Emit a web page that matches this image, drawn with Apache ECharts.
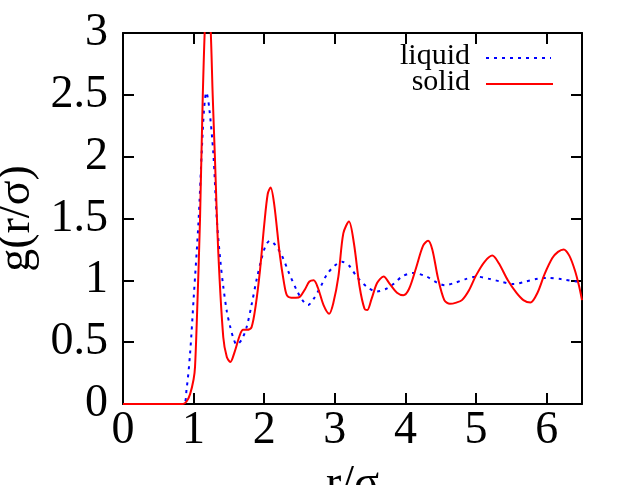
<!DOCTYPE html>
<html>
<head>
<meta charset="utf-8">
<script src="https://cdn.jsdelivr.net/npm/echarts@6/dist/echarts.min.js"></script>
<style>
html,body{margin:0;padding:0;background:#fff;}
#chart{width:623px;height:485px;}
</style>
</head>
<body>
<div id="chart"></div>
<script>
// ---- data ----
var rLiquid = [0, 0.85, 0.9, 0.95, 1.0, 1.07, 1.12, 1.15, 1.18, 1.22, 1.28, 1.33, 1.38, 1.42, 1.47, 1.52, 1.57, 1.61, 1.68, 1.75, 1.82, 1.89, 1.96, 2.02, 2.08, 2.15, 2.25, 2.35, 2.46, 2.54, 2.62, 2.70, 2.80, 2.89, 3.0, 3.10, 3.20, 3.31, 3.45, 3.59, 3.72, 3.83, 3.95, 4.11, 4.30, 4.45, 4.56, 4.70, 4.85, 5.01, 5.2, 5.35, 5.53, 5.7, 5.85, 6.0, 6.2, 6.47, 6.5];
var gLiquid = [0, 0, 0.12, 0.41, 0.85, 1.48, 2.1, 2.4, 2.52, 2.4, 2.02, 1.48, 1.15, 0.95, 0.75, 0.62, 0.52, 0.48, 0.52, 0.62, 0.8, 1.0, 1.17, 1.28, 1.32, 1.29, 1.2, 1.06, 0.92, 0.84, 0.80, 0.85, 0.95, 1.05, 1.12, 1.15, 1.12, 1.03, 0.95, 0.91, 0.93, 0.97, 1.03, 1.06, 1.03, 0.98, 0.96, 0.98, 1.01, 1.03, 1.01, 0.99, 0.97, 0.99, 1.01, 1.02, 1.01, 0.99, 0.99];
var rSolid = [0, 0.85, 0.9, 0.95, 1.0, 1.02, 1.05, 1.09, 1.13, 1.17, 1.20, 1.24, 1.27, 1.30, 1.35, 1.42, 1.47, 1.52, 1.58, 1.65, 1.70, 1.76, 1.82, 1.88, 1.94, 2.0, 2.05, 2.09, 2.14, 2.22, 2.28, 2.32, 2.38, 2.45, 2.51, 2.58, 2.64, 2.70, 2.76, 2.84, 2.92, 2.98, 3.05, 3.12, 3.20, 3.27, 3.35, 3.42, 3.46, 3.52, 3.60, 3.69, 3.78, 3.88, 3.97, 4.05, 4.15, 4.25, 4.32, 4.38, 4.46, 4.55, 4.63, 4.72, 4.80, 4.90, 5.0, 5.12, 5.23, 5.32, 5.45, 5.57, 5.67, 5.77, 5.87, 5.97, 6.08, 6.16, 6.24, 6.32, 6.40, 6.46, 6.5];
var gSolid = [0, 0, 0.02, 0.08, 0.2, 0.3, 0.75, 1.48, 2.5, 3.2, 3.4, 3.05, 2.5, 2.02, 1.22, 0.54, 0.38, 0.34, 0.42, 0.55, 0.60, 0.60, 0.62, 0.8, 1.08, 1.45, 1.7, 1.75, 1.62, 1.21, 0.98, 0.88, 0.86, 0.86, 0.87, 0.93, 0.99, 1.0, 0.94, 0.8, 0.73, 0.82, 1.03, 1.38, 1.476, 1.3, 0.95, 0.77, 0.76, 0.85, 0.98, 1.03, 0.97, 0.9, 0.88, 0.93, 1.1, 1.28, 1.32, 1.25, 1.02, 0.84, 0.81, 0.82, 0.84, 0.92, 1.04, 1.15, 1.20, 1.14, 1.0, 0.9, 0.84, 0.82, 0.9, 1.05, 1.18, 1.23, 1.25, 1.2, 1.08, 0.95, 0.84];
var seriesNames = ['liquid', 'solid'];
var xTitle = 'r/σ';
var yTitle = 'g(r/σ)';

var FONT = '"Liberation Serif", "DejaVu Serif", serif';
var chart = echarts.init(document.getElementById('chart'));

function pairs(xs, ys) { return xs.map(function (x, i) { return [x, ys[i]]; }); }

var axisCommon = {
  axisLine: { show: true, onZero: false, lineStyle: { color: '#000', width: 2 } },
  axisTick: { show: true, inside: true, length: 11, lineStyle: { color: '#000', width: 2 } },
  splitLine: { show: false }
};

chart.setOption({
  animation: false,
  backgroundColor: '#fff',
  grid: { left: 123, right: 41, top: 33, bottom: 81, containLabel: false, outerBoundsMode: 'none' },
  xAxis: [
    Object.assign({
      type: 'value', min: 0, max: 6.5, interval: 1, position: 'bottom',
      name: xTitle, nameLocation: 'middle', nameGap: 58,
      nameTextStyle: { fontFamily: FONT, fontSize: 46, color: '#000' },
      axisLabel: { show: true, fontFamily: FONT, fontSize: 46, color: '#000', margin: 4, showMaxLabel: false }
    }, axisCommon),
    Object.assign({
      type: 'value', min: 0, max: 6.5, interval: 1, position: 'top',
      axisLabel: { show: false }
    }, axisCommon)
  ],
  yAxis: [
    Object.assign({
      type: 'value', min: 0, max: 3, interval: 0.5, position: 'left',
      name: yTitle, nameLocation: 'middle', nameGap: 75, nameRotate: 90,
      nameTextStyle: { fontFamily: FONT, fontSize: 46, color: '#000' },
      axisLabel: { show: true, fontFamily: FONT, fontSize: 46, color: '#000', margin: 15 }
    }, axisCommon),
    Object.assign({
      type: 'value', min: 0, max: 3, interval: 0.5, position: 'right',
      axisLabel: { show: false }
    }, axisCommon)
  ],
  series: [
    {
      name: seriesNames[0], type: 'line', xAxisIndex: 0, yAxisIndex: 0,
      data: pairs(rLiquid, gLiquid), smooth: 0.3, showSymbol: false, clip: true,
      lineStyle: { color: '#0000ff', width: 2, type: [3, 5] }, z: 2
    },
    {
      name: seriesNames[1], type: 'line', xAxisIndex: 0, yAxisIndex: 0,
      data: pairs(rSolid, gSolid), smooth: 0.3, showSymbol: false, clip: true,
      lineStyle: { color: '#ff0000', width: 2 }, z: 3
    }
  ],
  graphic: [
    { type: 'text', right: 623 - 470, top: 41, style: { text: seriesNames[0], font: '30px ' + FONT, fill: '#000', textAlign: 'right' } },
    { type: 'text', right: 623 - 470, top: 67, style: { text: seriesNames[1], font: '30px ' + FONT, fill: '#000', textAlign: 'right' } },
    { type: 'line', shape: { x1: 486, y1: 58, x2: 551, y2: 58 }, style: { stroke: '#0000ff', lineWidth: 2, lineDash: [3, 5] } },
    { type: 'line', shape: { x1: 486, y1: 84, x2: 553, y2: 84 }, style: { stroke: '#ff0000', lineWidth: 2 } }
  ]
});
</script>
</body>
</html>
